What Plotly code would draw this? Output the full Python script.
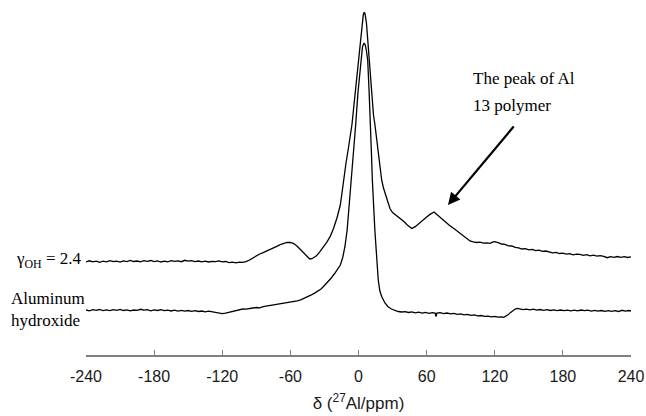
import plotly.graph_objects as go

# ---- data: (chemical shift in ppm, relative intensity) ----
gamma_oh_points = [
    (-240, 93.0), (-237, 94.2), (-234, 93.1), (-231, 93.8), (-228, 92.7), (-225, 93.9),
    (-222, 93.2), (-219, 94.4), (-216, 93.3), (-213, 93.9), (-210, 92.9), (-207, 94.1),
    (-204, 93.4), (-201, 94.6), (-198, 93.5), (-195, 94.0), (-192, 93.1), (-189, 94.3),
    (-186, 93.6), (-183, 94.5), (-180, 93.4), (-177, 94.1), (-174, 93.0), (-171, 93.8),
    (-168, 93.2), (-165, 94.4), (-162, 93.6), (-159, 94.2), (-156, 93.3), (-153, 94.7),
    (-150, 93.8), (-147, 94.3), (-144, 93.4), (-141, 94.0), (-138, 93.2), (-135, 93.9),
    (-132, 93.0), (-129, 93.7), (-126, 93.3), (-123, 94.1), (-120, 93.2), (-117, 93.5),
    (-114, 92.4), (-111, 92.9), (-108, 92.2), (-105, 92.8), (-102, 92.6), (-99, 93.4),
    (-96, 95.0), (-93, 97.3), (-90, 99.4), (-87, 101.0), (-84, 102.4), (-81, 103.8),
    (-78, 105.2), (-75, 106.9), (-72, 108.6), (-69, 110.4), (-66, 111.8), (-63, 112.6),
    (-60, 112.5), (-57, 111.4), (-54, 108.8), (-51, 105.4), (-48, 101.5), (-45, 97.8),
    (-43, 96.0), (-41, 96.3), (-39, 97.4), (-37, 99.2), (-34, 103.3), (-31, 107.8),
    (-28, 112.6), (-25, 118.3), (-22, 126.5), (-19, 137.0), (-16, 150.0), (-14.8, 160.0),
    (-13.6, 172.0), (-11, 192.0), (-9, 206.0), (-7, 220.0), (-5.7, 231.0), (-4, 250.0),
    (-2, 272.0), (-0.2, 295.0), (1.5, 315.0), (3, 331.0), (4.2, 340.0), (5, 342.7),
    (5.8, 341.0), (7, 332.0), (8.3, 314.0), (9.5, 295.0), (10.7, 272.0), (11.9, 255.0),
    (13.2, 240.0), (14.5, 230.0), (16, 216.0), (18, 196.0), (20.4, 175.0), (22, 167.0),
    (24, 160.0), (26, 152.0), (27.7, 146.5), (30, 142.5), (33, 140.0), (36.5, 137.2),
    (40, 133.5), (43, 130.0), (46.9, 126.5), (50, 128.3), (54.2, 132.8), (57, 135.6),
    (60, 138.0), (63, 140.6), (65, 142.4), (66.5, 143.0), (68, 141.6), (70, 139.5),
    (72, 137.8), (76.2, 133.6), (80, 129.8), (84, 126.5), (89.4, 122.0), (94, 117.5),
    (98.2, 114.0),
    (101, 113.2), (104, 112.5), (107, 112.9), (110, 111.8), (113, 112.2), (116, 111.7),
    (118, 112.8), (120, 113.3), (123, 112.4), (126, 111.0), (129, 110.6), (132, 109.2),
    (135, 109.0), (138, 107.6), (141, 107.2), (144, 106.0), (147, 106.4), (150, 105.2),
    (153, 105.6), (156, 104.3), (159, 104.8), (162, 103.6), (165, 104.0), (168, 103.3),
    (171, 102.1), (174, 102.7), (177, 101.5), (180, 101.9), (183, 100.8), (186, 101.3),
    (189, 100.2), (192, 100.9), (195, 100.7), (198, 99.6), (201, 100.3), (204, 99.2),
    (207, 99.8), (210, 98.9), (213, 99.4), (216, 98.6), (219, 97.3), (222, 98.4),
    (225, 97.6), (228, 98.5), (231, 97.7), (234, 98.3), (237, 97.5), (240, 98.1),
]

al_hydroxide_points = [
    (-240, 45.0), (-237, 44.2), (-234, 45.3), (-231, 44.6), (-228, 45.5), (-225, 44.4),
    (-222, 45.1), (-219, 44.3), (-216, 45.4), (-213, 44.7), (-210, 45.6), (-207, 44.5),
    (-204, 45.2), (-201, 44.1), (-198, 45.0), (-195, 44.6), (-192, 45.7), (-189, 44.8),
    (-186, 45.3), (-183, 44.2), (-180, 45.1), (-177, 44.5), (-174, 45.4), (-171, 44.3),
    (-168, 44.9), (-165, 44.0), (-162, 44.8), (-159, 43.9), (-156, 44.6), (-153, 43.8),
    (-150, 44.5), (-147, 43.7), (-144, 44.4), (-141, 43.5), (-138, 44.0), (-135, 43.2),
    (-132, 43.9), (-129, 43.1), (-126, 42.7), (-123, 42.0), (-120, 41.4), (-117, 41.8),
    (-114, 42.7), (-111, 43.6), (-108, 44.6), (-105, 45.2), (-102, 46.0), (-99, 45.8),
    (-96, 46.7), (-93, 47.0), (-90, 47.5), (-87, 47.2), (-84, 48.3), (-81, 48.9),
    (-78, 49.2), (-75, 49.8), (-72, 50.3), (-69, 50.8), (-66, 51.5), (-63, 52.1),
    (-60, 52.8), (-57, 53.4), (-54, 54.2), (-51, 55.2), (-48, 56.5), (-45, 58.0),
    (-42, 59.8), (-39, 61.6), (-36, 63.5), (-33, 66.0), (-30, 69.5), (-27, 73.0),
    (-24, 77.0), (-21, 81.5), (-18, 86.5), (-16, 90.0), (-14, 97.0), (-12, 108.0),
    (-10, 125.0), (-8.5, 145.0), (-7.5, 160.0), (-6.4, 175.0), (-4.5, 203.0), (-2.5, 230.0),
    (-0.5, 262.0), (1.9, 295.0), (3.5, 308.0), (4.8, 312.0), (6, 310.0), (7, 304.0),
    (8.1, 295.0), (9.4, 262.0), (10.7, 230.0), (11.5, 198.0), (12.2, 175.0), (13.2, 150.0),
    (14.4, 125.0), (15.9, 100.0), (17.4, 75.0), (18.8, 64.0), (20.4, 58.5), (23.3, 52.0),
    (26, 48.3), (29, 46.0), (32, 44.6), (35, 43.5), (38, 43.0), (41, 43.4),
    (44, 42.5), (47, 43.1), (50, 42.2), (53, 42.8), (56, 41.9), (59, 42.6),
    (62, 41.7), (65, 42.4), (67.5, 41.9), (68.3, 38.5), (69.1, 41.8), (72, 42.3),
    (75, 41.4), (78, 42.0), (81, 41.2), (84, 41.7), (87, 40.6), (90, 41.1),
    (93, 40.2), (96, 40.7), (99, 39.6), (102, 40.1), (105, 39.2), (108, 39.5),
    (111, 38.6), (114, 38.9), (117, 38.1), (120, 38.6), (123, 37.8), (126, 38.2),
    (128, 37.6), (130, 38.6), (132, 40.4), (134, 42.6), (136, 44.8), (138, 46.0),
    (140, 46.6), (142, 46.0), (145, 45.4), (148, 45.9), (151, 45.2), (154, 45.8),
    (157, 44.9), (160, 45.5), (163, 44.7), (166, 45.3), (169, 44.5), (172, 45.2),
    (175, 44.4), (178, 45.0), (181, 44.3), (184, 44.9), (187, 44.1), (190, 44.8),
    (193, 44.2), (196, 45.0), (199, 44.3), (202, 44.8), (205, 43.9), (208, 44.6),
    (211, 43.8), (214, 44.5), (217, 43.7), (220, 44.3), (223, 43.6), (226, 44.4),
    (229, 43.5), (232, 44.7), (235, 43.8), (238, 44.5), (240, 44.0),
]

tick_values = [-240, -180, -120, -60, 0, 60, 120, 180, 240]
tick_labels = ["-240", "-180", "-120", "-60", "0", "60", "120", "180", "240"]

arrow_head = (78.8, 150.0)   # ppm, intensity at the arrow tip

# ---- figure ----
fig = go.Figure()
for pts in (gamma_oh_points, al_hydroxide_points):
    xs = [p[0] for p in pts]
    ys = [p[1] for p in pts]
    fig.add_trace(go.Scatter(x=xs, y=ys, mode="lines",
                             line=dict(color="black", width=1.3),
                             showlegend=False, hoverinfo="skip"))

serif = "Liberation Serif, Times New Roman, serif"
sans = "Liberation Sans, Arial, sans-serif"

L, R, T, B = 86, 15, 0, 61
W, H = 646, 416
pw, ph = W - L - R, H - T - B

def px(xp):
    return (xp - L) / pw

def py(yp):
    return (H - B - yp) / ph

annotations = [
    dict(text="γ<sub>OH</sub> = 2.4", x=px(14), y=py(260), xref="paper", yref="paper",
         xanchor="left", yanchor="middle", showarrow=False,
         font=dict(family=serif, size=17, color="black")),
    dict(text="Aluminum", x=px(9), y=py(298), xref="paper", yref="paper",
         xanchor="left", yanchor="middle", showarrow=False,
         font=dict(family=serif, size=17, color="black")),
    dict(text="hydroxide", x=px(9), y=py(320), xref="paper", yref="paper",
         xanchor="left", yanchor="middle", showarrow=False,
         font=dict(family=serif, size=17, color="black")),
    dict(text="The peak of Al", x=px(471), y=py(78), xref="paper", yref="paper",
         xanchor="left", yanchor="middle", showarrow=False,
         font=dict(family=serif, size=17, color="black")),
    dict(text="13 polymer", x=px(471), y=py(105), xref="paper", yref="paper",
         xanchor="left", yanchor="middle", showarrow=False,
         font=dict(family=serif, size=17, color="black")),
    dict(text="", x=arrow_head[0], y=arrow_head[1], xref="x", yref="y",
         showarrow=True, ax=67, ay=-80, arrowhead=2, arrowsize=1.1,
         arrowwidth=2.2, arrowcolor="black"),
]

fig.update_layout(
    width=W, height=H,
    margin=dict(l=L, r=R, t=T, b=B, pad=0),
    paper_bgcolor="white", plot_bgcolor="white",
    annotations=annotations,
    xaxis=dict(range=[-240, 240], tickmode="array", tickvals=tick_values,
               ticktext=tick_labels, ticks="inside", ticklen=5, tickwidth=1,
               tickcolor="#808080", showline=True, linecolor="#808080",
               linewidth=1.5, showgrid=False, zeroline=False,
               ticklabelstandoff=6,
               tickfont=dict(family=sans, size=16, color="#1a1a1a"),
               title=dict(text="δ (<sup>27</sup>Al/ppm)",
                          font=dict(family=sans, size=17, color="#1a1a1a"),
                          standoff=13)),
    yaxis=dict(range=[0, 355], visible=False, fixedrange=True),
)

fig.write_html("out.html")
